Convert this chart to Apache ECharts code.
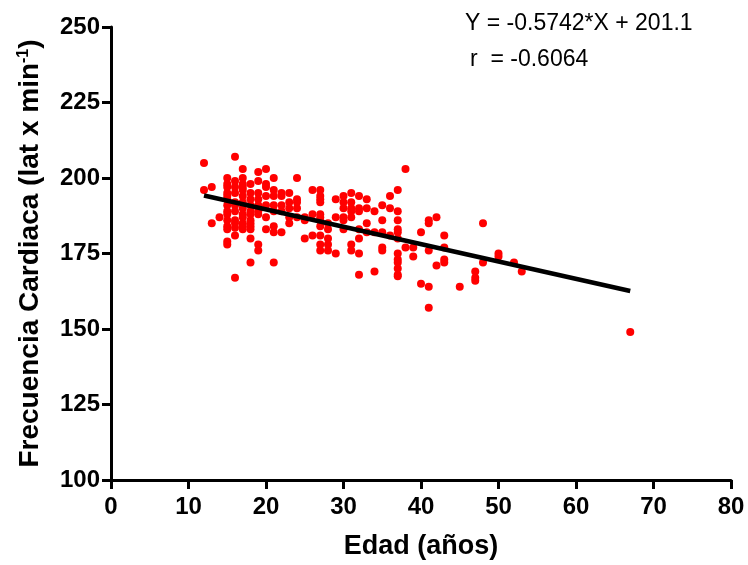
<!DOCTYPE html>
<html>
<head>
<meta charset="utf-8">
<script src="https://cdn.jsdelivr.net/npm/echarts@6/dist/echarts.min.js"></script>
<style>html,body{margin:0;padding:0;background:#fff}#c{width:748px;height:565px}</style>
</head>
<body>
<div id="c"></div>
<script>
// Ages (x) grouped per column, and heart-rate values (y)
const ageCols = [12, 13, 14, 15, 16, 17, 18, 19, 20, 21, 22, 23, 24, 25, 26, 27, 28, 29, 30, 31, 32, 33, 34, 35, 36, 37, 38, 39, 40, 41, 42, 43, 45, 47, 48, 50, 52, 53, 67];
const rateCols = [
  [205, 196],
  [197, 185],
  [187],
  [200, 198, 197, 195, 194, 193, 191, 189, 188, 186, 184, 183, 179, 178],
  [207, 199, 197, 195, 192, 191, 189, 186, 185, 183.5, 181, 167],
  [203, 200, 198, 197, 196, 194, 192, 190, 188, 187, 185, 184, 183],
  [198, 195, 193, 191, 189, 188, 186, 185, 184, 183, 180, 172],
  [202, 199, 195, 193, 191, 189, 188, 178, 176],
  [203, 198, 197, 194, 191, 187, 183],
  [200, 196, 194, 191, 189, 184, 182, 172],
  [195, 194, 191, 189, 182],
  [195, 192, 190, 187, 185],
  [200, 193, 192, 190, 187],
  [187, 186, 180],
  [196, 188, 181],
  [196, 194, 193, 192, 188, 187, 186, 184, 181, 178, 176],
  [185, 183, 180, 178, 176],
  [193, 187, 175],
  [194, 192, 190, 187, 186, 183],
  [195, 192, 190, 189, 187, 178, 176],
  [194, 190, 189, 183, 180, 175, 168],
  [193, 190, 185, 182],
  [189, 182, 169],
  [191, 186, 182, 177, 176],
  [194, 190, 181],
  [196, 189, 186, 183, 182, 180, 175, 173, 172, 170, 168, 167.5],
  [203, 177],
  [177, 174],
  [182, 165],
  [186, 185, 176, 164, 157],
  [187, 171],
  [181, 177, 173, 172],
  [164],
  [169, 167, 166],
  [185, 172],
  [175, 174],
  [172],
  [169],
  [149]
];
// Regression line end points
const fitX = [12, 67];
const fitY = [194.2, 162.6];
// Axis ticks
const xTicks = [0, 10, 20, 30, 40, 50, 60, 70, 80];
const yTicks = [100, 125, 150, 175, 200, 225, 250];
const eqText = 'Y = -0.5742*X + 201.1';
const rText = 'r  = -0.6064';

const points = [];
ageCols.forEach((a, i) => rateCols[i].forEach(v => points.push([a, v])));
const fitLine = fitX.map((x, i) => [x, fitY[i]]);

const FF = '"Liberation Sans", Arial, sans-serif';
const chart = echarts.init(document.getElementById('c'), null, {renderer: 'canvas'});
chart.setOption({
  animation: false,
  backgroundColor: '#fff',
  grid: {left: 111, right: 17, top: 27, bottom: 83, containLabel: false},
  xAxis: {
    type: 'value', min: xTicks[0], max: xTicks[xTicks.length - 1], interval: 10,
    name: 'Edad (años)', nameLocation: 'middle', nameGap: 53,
    nameTextStyle: {fontFamily: FF, fontWeight: 'bold', fontSize: 27, color: '#000'},
    axisLine: {show: true, onZero: false, lineStyle: {color: '#000', width: 3}},
    axisTick: {show: true, length: 9, lineStyle: {color: '#000', width: 3}},
    axisLabel: {fontFamily: FF, fontWeight: 'bold', fontSize: 24, color: '#000', margin: 15},
    splitLine: {show: false}
  },
  yAxis: {
    type: 'value', min: yTicks[0], max: yTicks[yTicks.length - 1], interval: 25,
    name: '{a|Frecuencia Cardiaca (lat x min}{s|-1}{a|)}', nameLocation: 'middle', nameGap: 67, nameRotate: 90,
    nameTextStyle: {
      fontFamily: FF, fontWeight: 'bold', fontSize: 28, color: '#000',
      rich: {
        a: {fontFamily: FF, fontWeight: 'bold', fontSize: 28, color: '#000'},
        s: {fontFamily: FF, fontWeight: 'bold', fontSize: 16, color: '#000', verticalAlign: 'top', lineHeight: 16}
      }
    },
    axisLine: {show: true, onZero: false, lineStyle: {color: '#000', width: 3}},
    axisTick: {show: true, length: 9, lineStyle: {color: '#000', width: 3}},
    axisLabel: {fontFamily: FF, fontWeight: 'bold', fontSize: 24, color: '#000', margin: 11},
    splitLine: {show: false}
  },
  series: [
    {
      type: 'scatter', data: points, symbol: 'circle', symbolSize: 8,
      itemStyle: {color: '#ff0000', opacity: 1}, z: 2
    },
    {
      type: 'line', data: fitLine, symbol: 'none',
      lineStyle: {color: '#000', width: 4.5}, z: 3
    }
  ],
  graphic: [
    {type: 'text', left: 465, top: 12, style: {text: eqText, font: '23px ' + FF, fill: '#000'}},
    {type: 'text', left: 470, top: 48, style: {text: rText, font: '23px ' + FF, fill: '#000'}}
  ]
});
</script>
</body>
</html>
